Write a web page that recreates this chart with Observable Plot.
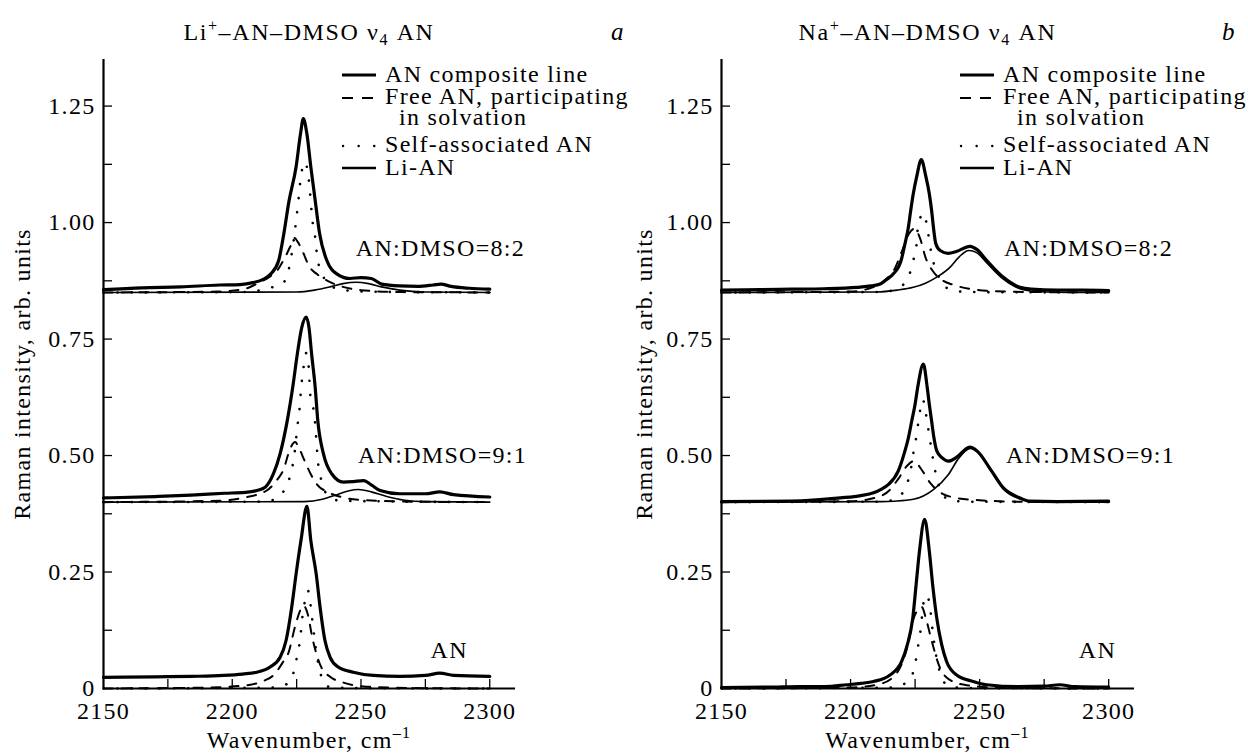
<!DOCTYPE html>
<html><head><meta charset="utf-8">
<script src="https://cdn.jsdelivr.net/npm/d3@7"></script>
<script src="https://cdn.jsdelivr.net/npm/@observablehq/plot@0.6"></script>
<style>
body{margin:0;background:#fff;}
#wrap{position:relative;display:flex;width:1248px;height:754px;overflow:hidden;background:#fff;}
#wrap svg{flex:none;}
#wrap svg, #wrap svg text, #wrap svg tspan{font-family:"Liberation Serif","Times New Roman",Times,"DejaVu Serif",serif !important;}
</style></head><body><div id="wrap"></div>
<script>
// ---- axes / ticks ----
const xTickLabels = [2150, 2200, 2250, 2300];
const xTickMinor = [2175, 2200, 2225, 2250, 2275, 2300];
const yTickLabels = [0, 0.25, 0.5, 0.75, 1.0, 1.25];
const yTickMinor = [0.125, 0.25, 0.375, 0.5, 0.625, 0.75, 0.875, 1.0, 1.125, 1.25];
const xDomain = [2150, 2310];
const yDomain = [0, 1.35];

const seriesNames = ["AN composite line", "Free AN, participating", "in solvation", "Self-associated AN", "Li-AN"];
const titlesMain = [["Li", "+", "–AN–DMSO ν", "4", " AN"], ["Na", "+", "–AN–DMSO ν", "4", " AN"]];
const panelLetters = ["a", "b"];
const yLabel = "Raman intensity, arb. units";
const xLabel = "Wavenumber, cm";

// ---- panel a: Li+ ----  [wavenumber, intensity]
const L82comp = [[2150,0.856],[2165,0.860],[2180,0.862],[2195,0.866],[2203,0.867],[2208,0.871],[2212,0.878],[2215,0.890],[2218,0.918],[2220,0.975],[2222,1.045],[2224.8,1.12],[2226.5,1.19],[2227.6,1.223],[2229,1.19],[2230.5,1.12],[2232.2,1.048],[2233.9,0.977],[2236.7,0.919],[2240.6,0.89],[2245.7,0.88],[2250,0.882],[2254,0.88],[2258,0.868],[2265,0.864],[2272,0.863],[2278,0.866],[2281,0.868],[2285,0.863],[2292,0.859],[2300,0.857]];
const L82free = [[2150,0.85],[2195,0.852],[2205,0.858],[2210,0.87],[2214,0.882],[2217.3,0.896],[2220,0.92],[2222.5,0.948],[2224.2,0.967],[2225.5,0.958],[2227.4,0.937],[2230,0.905],[2233,0.889],[2237,0.875],[2243,0.862],[2250,0.855],[2265,0.851],[2300,0.85]];
const L82self = [[2150,0.85],[2205,0.851],[2212,0.856],[2216,0.862],[2219.3,0.868],[2221.8,0.896],[2223,0.93],[2225.4,1.032],[2226.7,1.10],[2228.2,1.13],[2229.6,1.098],[2231.3,0.997],[2232.4,0.96],[2233,0.925],[2234.5,0.896],[2237,0.87],[2241,0.858],[2250,0.852],[2300,0.85]];
const L82li = [[2150,0.85],[2225,0.851],[2232,0.855],[2238,0.862],[2243,0.869],[2248,0.872],[2253,0.869],[2258,0.862],[2265,0.855],[2275,0.851],[2300,0.85]];

const L91comp = [[2150,0.409],[2170,0.412],[2184,0.415],[2197,0.419],[2205,0.421],[2209.6,0.425],[2212.8,0.432],[2216,0.461],[2218.6,0.504],[2221.4,0.576],[2223.5,0.647],[2225.3,0.719],[2227,0.775],[2228.7,0.797],[2229.8,0.775],[2230.8,0.719],[2232.2,0.647],[2233.2,0.576],[2235.4,0.504],[2238.6,0.461],[2243.2,0.443],[2247,0.444],[2251,0.446],[2254,0.437],[2257.4,0.425],[2265,0.418],[2275,0.418],[2280.6,0.422],[2286,0.416],[2300,0.411]];
const L91free = [[2150,0.40],[2195,0.403],[2205,0.41],[2213.4,0.425],[2217,0.445],[2219.9,0.47],[2222.5,0.515],[2224.4,0.529],[2226,0.515],[2228,0.49],[2230.5,0.46],[2233.2,0.436],[2237,0.422],[2243,0.41],[2252,0.404],[2270,0.401],[2300,0.40]];
const L91self = [[2150,0.40],[2210,0.401],[2216,0.405],[2220.8,0.432],[2222.7,0.461],[2224,0.497],[2225.3,0.563],[2226.1,0.598],[2226.6,0.635],[2227.7,0.69],[2228.7,0.72],[2229.7,0.69],[2230.2,0.636],[2231.9,0.586],[2233.4,0.481],[2234.7,0.445],[2237,0.415],[2242,0.403],[2300,0.40]];
const L91li = [[2150,0.40],[2228,0.401],[2235,0.406],[2240,0.415],[2245,0.424],[2249,0.427],[2254,0.422],[2260,0.412],[2267,0.404],[2275,0.401],[2300,0.40]];

const LANcomp = [[2150,0.024],[2170,0.025],[2184,0.026],[2196.6,0.028],[2204,0.031],[2209.6,0.035],[2214.7,0.046],[2218.6,0.067],[2220.9,0.103],[2223.1,0.175],[2224.8,0.246],[2226.7,0.318],[2229,0.391],[2230.5,0.318],[2232.6,0.246],[2234.1,0.175],[2236,0.103],[2238,0.067],[2241.2,0.046],[2247,0.035],[2254.8,0.028],[2265,0.026],[2275,0.028],[2280.6,0.033],[2286,0.028],[2300,0.026]];
const LANfree = [[2150,0],[2190,0.002],[2205.7,0.007],[2212,0.016],[2216.3,0.03],[2219.5,0.055],[2221.8,0.076],[2224.4,0.133],[2226.2,0.165],[2227.6,0.178],[2229.3,0.16],[2231.1,0.109],[2234.3,0.049],[2238,0.025],[2242.5,0.014],[2252,0.004],[2270,0.001],[2300,0]];
const LANself = [[2150,0],[2215,0.002],[2221.8,0.011],[2224.1,0.04],[2225.3,0.073],[2226.4,0.107],[2227,0.142],[2228.3,0.19],[2229.4,0.21],[2230.5,0.176],[2231.2,0.142],[2232.8,0.073],[2235,0.02],[2237.3,0.004],[2245,0.001],[2300,0]];

// ---- panel b: Na+ ----
const R82comp = [[2150,0.855],[2165,0.856],[2177,0.857],[2189.5,0.858],[2202.5,0.861],[2208,0.864],[2211.5,0.868],[2214,0.878],[2216.6,0.89],[2219.6,0.919],[2221.1,0.955],[2222.4,0.99],[2223.3,1.026],[2224.3,1.062],[2225.6,1.098],[2227.4,1.135],[2229.2,1.098],[2230.5,1.062],[2231.4,1.026],[2232.1,0.99],[2233,0.955],[2234.7,0.94],[2237.8,0.934],[2241,0.938],[2246.2,0.949],[2249,0.942],[2252.7,0.919],[2259.1,0.883],[2265.6,0.861],[2270,0.857],[2280,0.855],[2290,0.855],[2300,0.854]];
const R82free = [[2150,0.85],[2200,0.852],[2208,0.86],[2213,0.875],[2217,0.9],[2220,0.94],[2222.5,0.975],[2224.8,0.987],[2227,0.965],[2229,0.926],[2232,0.895],[2235.6,0.876],[2240,0.866],[2245.9,0.858],[2255,0.853],[2270,0.851],[2300,0.85]];
const R82self = [[2150,0.85],[2212,0.851],[2218,0.858],[2222.4,0.883],[2224.3,0.919],[2225.5,0.95],[2226,0.987],[2227,1.01],[2228.2,1.02],[2229.9,0.983],[2230.8,0.949],[2232.1,0.915],[2234.5,0.88],[2237.9,0.858],[2245,0.851],[2300,0.85]];
const R82li = [[2150,0.85],[2210,0.851],[2218,0.855],[2224.3,0.861],[2229,0.87],[2233.4,0.883],[2238.5,0.904],[2242,0.926],[2245.8,0.94],[2249,0.935],[2252.7,0.914],[2259.1,0.879],[2265.6,0.858],[2272,0.852],[2285,0.85],[2300,0.85]];

const R91comp = [[2150,0.401],[2177,0.402],[2196,0.409],[2204,0.414],[2208.9,0.42],[2212,0.428],[2214.7,0.438],[2218.5,0.467],[2220.7,0.503],[2222.4,0.538],[2223.7,0.574],[2225,0.61],[2226,0.646],[2228.2,0.696],[2229.7,0.646],[2230.5,0.61],[2231.4,0.574],[2232.3,0.538],[2233.4,0.51],[2235.5,0.495],[2237.9,0.488],[2241,0.496],[2246.2,0.518],[2249,0.51],[2254.6,0.467],[2259.1,0.431],[2265.6,0.409],[2269.4,0.402],[2280,0.401],[2300,0.402]];
const R91free = [[2150,0.40],[2200,0.402],[2210,0.41],[2215,0.425],[2218.5,0.45],[2221.9,0.478],[2224.5,0.488],[2227.6,0.469],[2231,0.44],[2235,0.42],[2240,0.41],[2250,0.404],[2265,0.401],[2300,0.40]];
const R91self = [[2150,0.40],[2212,0.401],[2217.3,0.406],[2221.5,0.435],[2223.3,0.468],[2224.3,0.504],[2225.4,0.538],[2226.3,0.573],[2227.3,0.607],[2228,0.62],[2229.2,0.589],[2231.1,0.521],[2232.1,0.487],[2233.4,0.451],[2235.5,0.42],[2238,0.405],[2245,0.401],[2300,0.40]];
const R91li = [[2150,0.40],[2212,0.401],[2217,0.402],[2224.3,0.406],[2232.1,0.427],[2238,0.46],[2242,0.495],[2246.5,0.515],[2249,0.508],[2254.6,0.465],[2259.1,0.429],[2265.6,0.407],[2272,0.401],[2300,0.40]];

const RANcomp = [[2150,0.002],[2170,0.003],[2180,0.004],[2190,0.004],[2198.6,0.008],[2204,0.011],[2208.9,0.015],[2215.3,0.029],[2219.8,0.058],[2222,0.094],[2224.1,0.151],[2225.4,0.223],[2226.7,0.295],[2228.7,0.363],[2230.5,0.295],[2231.8,0.223],[2233.4,0.151],[2235.3,0.094],[2237.2,0.058],[2241.1,0.029],[2247.5,0.015],[2252.7,0.008],[2265,0.004],[2275,0.005],[2281,0.008],[2287,0.004],[2300,0.003]];
const RANfree = [[2150,0],[2200,0.002],[2210,0.008],[2216,0.022],[2220,0.055],[2222.5,0.1],[2224.3,0.148],[2226,0.168],[2227.6,0.175],[2229.2,0.15],[2231.4,0.103],[2234.3,0.049],[2238,0.02],[2245,0.007],[2260,0.001],[2300,0]];
const RANself = [[2150,0],[2215,0.002],[2220,0.008],[2222.8,0.019],[2225,0.051],[2226,0.085],[2227,0.12],[2228.5,0.191],[2229.4,0.2],[2230.1,0.194],[2231.1,0.16],[2231.8,0.124],[2233.5,0.06],[2235.3,0.024],[2238,0.005],[2245,0.001],[2300,0]];

// ---- in-plot labels (data coordinates) ----
const labelsA = [{x:2248, y:0.945, t:"AN:DMSO=8:2"}, {x:2248.8, y:0.50, t:"AN:DMSO=9:1"}, {x:2277, y:0.082, t:"AN"}];
const labelsB = [{x:2259.4, y:0.945, t:"AN:DMSO=8:2"}, {x:2260.2, y:0.50, t:"AN:DMSO=9:1"}, {x:2288.4, y:0.082, t:"AN"}];

const FONT = "Liberation Serif, Times New Roman, Times, DejaVu Serif, serif";
const FS = 24;

const styles = {
  comp: {stroke:"#000", strokeWidth:3.2},
  free: {stroke:"#000", strokeWidth:2, strokeDasharray:"9,9"},
  self: {stroke:"#000", strokeWidth:2.6, strokeDasharray:"0.1,14", strokeLinecap:"round"},
  li:   {stroke:"#000", strokeWidth:1.6}
};

function panel(cfg) {
  const W = 624, H = 754;
  const mt = 59, mb = 66;
  const ml = cfg.ml, mr = cfg.mr;
  const plotW = W - ml - mr, plotH = H - mt - mb;
  const marks = [];
  for (const s of cfg.series) {
    marks.push(Plot.line(s.data, {x: d => d[0], y: d => d[1], curve: "monotone-x", ...styles[s.kind]}));
  }
  marks.push(
    Plot.ruleY([yDomain[0]], {stroke:"#000", strokeWidth:2.2}),
    Plot.ruleX([xDomain[0]], {stroke:"#000", strokeWidth:2.2}),
    Plot.tickY(yTickMinor, {y: d => d, insetRight: plotW - 9, stroke:"#000", strokeWidth:1.3}),
    Plot.tickX(xTickMinor, {x: d => d, insetTop: plotH - 9, stroke:"#000", strokeWidth:1.3}),
    Plot.axisY({ticks: yTickLabels, tickSize: 0, tickPadding: 8, tickFormat: d => d === 0 ? "0" : d.toFixed(2), fontSize: FS, label: null}),
    Plot.axisX({ticks: xTickLabels, tickSize: 0, tickPadding: 13, tickFormat: d => String(d), fontSize: FS, label: null}),
    Plot.text(cfg.labels, {x: "x", y: "y", text: "t", textAnchor: "start", fontSize: FS, fill: "#000", ariaLabel: "condition-labels"}),
    Plot.text([yLabel], {frameAnchor: "left", dx: cfg.yLabelDx, dy: 0, rotate: -90, textAnchor: "middle", fontSize: FS, fill: "#000"})
  );
  const svg = Plot.plot({
    width: W, height: H,
    marginLeft: ml, marginRight: mr, marginTop: mt, marginBottom: mb,
    x: {domain: xDomain},
    y: {domain: yDomain},
    style: {fontFamily: FONT, fontSize: FS + "px", color: "#000", background: "transparent", overflow: "visible", letterSpacing: "1.3px"},
    marks
  });
  const sel = d3.select(svg);
  sel.selectAll("g[aria-label='condition-labels'] text").attr("letter-spacing", "3px");
  const cx = ml + plotW / 2;
  // title
  const t = sel.append("text").attr("x", cx).attr("y", 40).attr("text-anchor", "middle")
    .attr("font-size", FS).attr("fill", "#000").attr("letter-spacing", "1.6px");
  const [a, sup, b, sub, c] = cfg.title;
  t.append("tspan").text(a);
  t.append("tspan").attr("font-size", 16).attr("dy", -9).text(sup);
  t.append("tspan").attr("dy", 9).text(b);
  t.append("tspan").attr("font-size", 16).attr("dy", 5).text(sub);
  t.append("tspan").attr("dy", -5).text(c);
  sel.append("text").attr("x", cfg.letterX).attr("y", 40).attr("text-anchor", "start").attr("font-style", "italic")
    .attr("font-size", 25).attr("fill", "#000").text(cfg.letter);
  // x label with superscript
  const xl = sel.append("text").attr("x", cx).attr("y", 748).attr("text-anchor", "middle")
    .attr("font-size", FS).attr("fill", "#000");
  xl.append("tspan").text(xLabel);
  xl.append("tspan").attr("font-size", 16).attr("dy", -10).text("–1");
  // legend
  const lg = sel.append("g").attr("font-size", FS).attr("fill", "#000").attr("text-anchor", "start");
  const lx0 = cfg.legendX, lx1 = cfg.legendX + 34, tx = cfg.legendX + 43;
  const rows = [82, 104, 125, 152, 175];
  lg.append("line").attr("x1", lx0).attr("x2", lx1).attr("y1", rows[0] - 7).attr("y2", rows[0] - 7).attr("stroke", "#000").attr("stroke-width", 3);
  lg.append("line").attr("x1", lx0).attr("x2", lx1).attr("y1", rows[1] - 6).attr("y2", rows[1] - 6).attr("stroke", "#000").attr("stroke-width", 2).attr("stroke-dasharray", "11,9");
  lg.append("line").attr("x1", lx0 + 1).attr("x2", lx1).attr("y1", rows[3] - 6).attr("y2", rows[3] - 6).attr("stroke", "#000").attr("stroke-width", 2.4).attr("stroke-dasharray", "0.1,15.5").attr("stroke-linecap", "round");
  lg.append("line").attr("x1", lx0).attr("x2", lx1).attr("y1", rows[4] - 7).attr("y2", rows[4] - 7).attr("stroke", "#000").attr("stroke-width", 2.4);
  seriesNames.forEach((n, i) => {
    lg.append("text").attr("x", i === 2 ? tx + 14 : tx).attr("y", rows[i]).attr("text-anchor", "start").text(n);
  });
  return svg;
}

const wrap = document.getElementById("wrap");
wrap.appendChild(panel({
  ml: 103, mr: 109, title: titlesMain[0], letter: panelLetters[0], letterX: 611, legendX: 342, yLabelDx: -81,
  labels: labelsA,
  series: [
    {kind:"li", data:L82li},{kind:"free", data:L82free},{kind:"self", data:L82self},{kind:"comp", data:L82comp},
    {kind:"li", data:L91li},{kind:"free", data:L91free},{kind:"self", data:L91self},{kind:"comp", data:L91comp},
    {kind:"free", data:LANfree},{kind:"self", data:LANself},{kind:"comp", data:LANcomp}
  ]
}));
wrap.appendChild(panel({
  ml: 97, mr: 114, title: titlesMain[1], letter: panelLetters[1], letterX: 598, legendX: 336, yLabelDx: -77,
  labels: labelsB,
  series: [
    {kind:"li", data:R82li},{kind:"free", data:R82free},{kind:"self", data:R82self},{kind:"comp", data:R82comp},
    {kind:"li", data:R91li},{kind:"free", data:R91free},{kind:"self", data:R91self},{kind:"comp", data:R91comp},
    {kind:"free", data:RANfree},{kind:"self", data:RANself},{kind:"comp", data:RANcomp}
  ]
}));
</script></body></html>
